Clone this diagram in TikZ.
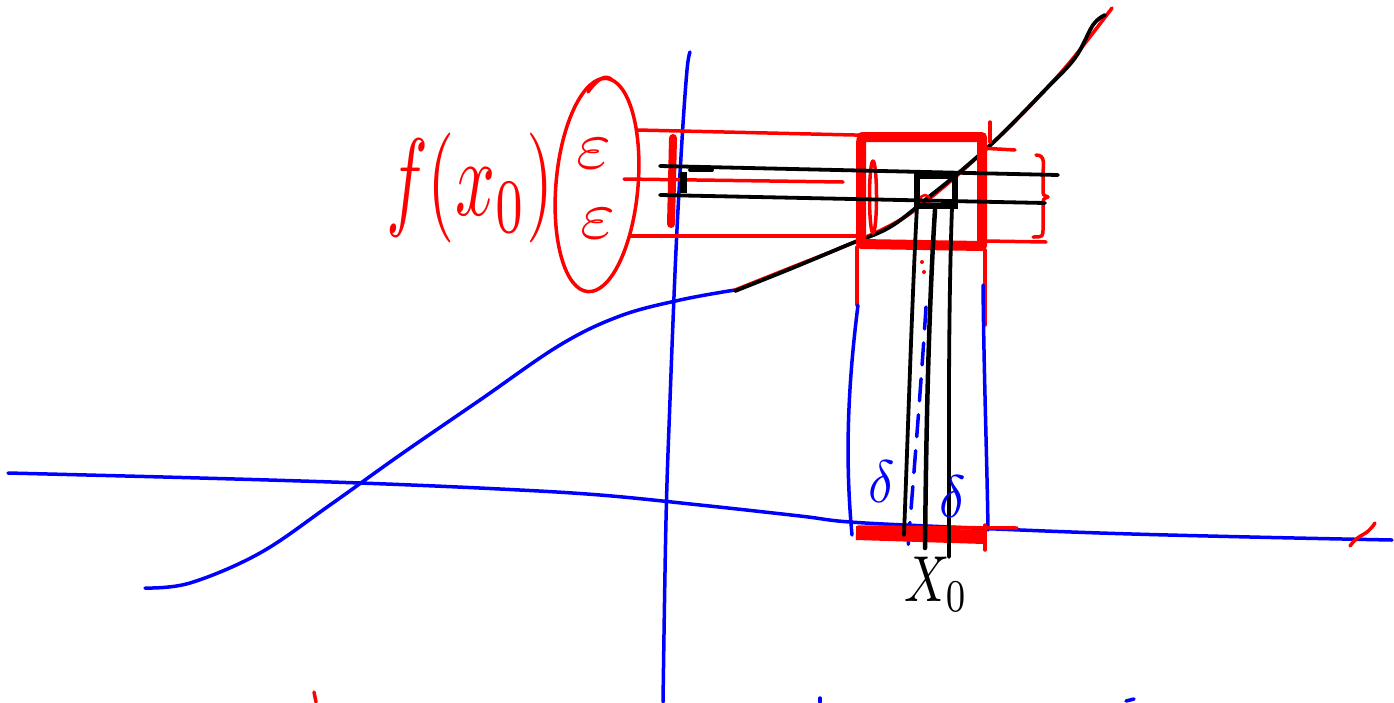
\documentclass[tikz,border=0pt]{standalone}
\begin{document}
\begin{tikzpicture}[x=1pt,y=-1pt,
  pen/.style={line width=3.5pt, line cap=round, line join=round},
  bluepen/.style={pen, draw=blue},
  redpen/.style={pen, draw=red},
  blackpen/.style={pen, draw=black, line width=3.8pt},
  redbar/.style={draw=red, line width=10pt, line cap=round, line join=round},
  lbl/.style={inner sep=0pt}]
\useasboundingbox[fill=white] (0,0) rectangle (1394,702);

% ---------- blue axes ----------
\draw[bluepen] plot[smooth, tension=0.6] coordinates {(8,473) (200,478) (360,483) (500,489) (600,495) (700,505) (800,516) (850,522) (950,527) (1100,533) (1250,537) (1392,540)};
\draw[bluepen] plot[smooth, tension=0.6] coordinates {(690,52) (687,70) (682,140) (676,250) (670,400) (666,520) (663,702)};

% ---------- function curve ----------
\draw[bluepen] plot[smooth, tension=0.6] coordinates {(145,588) (190,583) (260,553) (330,505) (400,455) (480,400) (560,345) (620,316) (680,300) (735,290)};
\draw[redpen] plot[smooth, tension=0.6] coordinates {(735,290) (790,268) (850,244) (900,220) (940,190) (985,150) (1030,106) (1070,62) (1112,8)};
\draw[blackpen] plot[smooth, tension=0.6] coordinates {(735,291) (790,269) (845,246) (890,227) (930,196) (962,170) (1000,136) (1045,90) (1075,58) (1093,25) (1105,15)};

% ---------- epsilon band (red) ----------
\draw[redpen] (597,185) ellipse [x radius=41pt, y radius=107pt, rotate=-5];
\draw[redpen] (588,92) .. controls (598,78) and (606,74) .. (612,80);
\draw[redpen] (637,130) -- (985,138);
\draw[redpen] (624,179) -- (843,182);
\draw[redpen] (630,236) -- (865,236);
\draw[redpen] (985,241) -- (1046,242);
\draw[redpen] (980,148) -- (1015,150);
\draw[redpen] (990,122) -- (990,142);
\draw[red, line width=8pt, line cap=round] (673,138) -- (671,224);
% bracket
\draw[redpen] (1036,155) .. controls (1046,155) and (1043,165) .. (1043,175) -- (1043,190) .. controls (1043,195) .. (1048,197) .. controls (1043,199) .. (1043,205) -- (1043,228) .. controls (1043,237) .. (1033,237);

% red box
\draw[redbar] (861,143) -- (861,244) -- (982,246) -- (982,137) -- (862,137) -- cycle;
\draw[redpen] (873,197) ellipse [x radius=3.5pt, y radius=36pt];
\draw[redpen] (857,247) -- (857,305);
\draw[redpen] (985,250) -- (985,325);
\draw[red, line width=2.5pt] (925,200) circle [radius=5pt];
\fill[red] (922,262) circle [radius=2pt] (924,272) circle [radius=2pt];

% ---------- delta strip (blue) ----------
\draw[bluepen] (858,305) .. controls (846,400) and (846,470) .. (852,535);
\draw[bluepen] (983,285) .. controls (984,380) and (987,460) .. (988,530);
\draw[bluepen, dash pattern=on 22pt off 14pt] (926,307) .. controls (920,400) and (914,470) .. (908,548);

% red bar on x axis
\draw[red, line width=14pt] (856,533) -- (984,537);
\draw[redpen] (858,527) -- (1017,528);
\draw[redpen] (985,525) -- (985,550);

% ---------- black epsilon/delta lines ----------
\draw[blackpen] (660,166) -- (1058,175);
\draw[blackpen] (660,195) -- (1045,203);
\draw[blackpen] (690,170) -- (712,170);
\draw[black, line width=7pt] (683,172) -- (683,193);
\draw[black, line width=5.5pt] (917,176) rectangle (955,206);
\draw[blackpen] (917,206) .. controls (912,300) and (908,430) .. (904,535);
\draw[black, line width=4.5pt, line cap=round] (935,210) .. controls (928,320) and (926,450) .. (925,548);
\draw[blackpen] (952,207) .. controls (948,320) and (949,450) .. (949,557);

% ---------- small marks ----------
\draw[redpen] (1350,546) .. controls (1360,532) and (1365,538) .. (1375,523);
\draw[redpen] (314,692) -- (316,702);
\draw[bluepen] (820,698) -- (820,702);
\draw[bluepen] (1126,701) -- (1134,699);

% ---------- labels ----------
\node[lbl, red, xscale=7, yscale=11] (fx) at (470,188) {$f(x_0)$};
\node[lbl, red, anchor=base, xscale=7.5, yscale=6.9] (e1) at (594,168) {$\varepsilon$};
\node[lbl, red, anchor=base, xscale=7.5, yscale=6.9] (e2) at (598,238) {$\varepsilon$};
\node[lbl, blue, xscale=5.5, yscale=6] (d1) at (882,482) {$\delta$};
\node[lbl, blue, xscale=5.5, yscale=6] (d2) at (953,497) {$\delta$};
\node[lbl, black, xscale=5, yscale=6.5] (x0) at (936,584) {$X_0$};
\end{tikzpicture}
\end{document}
